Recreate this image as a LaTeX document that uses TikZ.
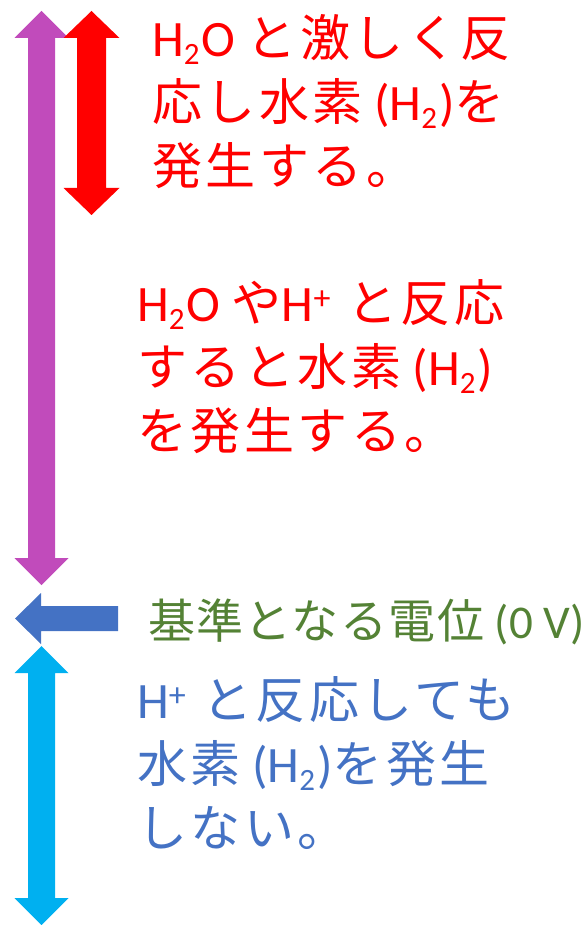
\documentclass[tikz,border=0pt]{standalone}
\usepackage{fontspec}
\setmainfont{Carlito}
\newfontfamily\jpfont[Scale=0.98, LetterSpace=7]{Noto Sans CJK JP}
\newfontfamily\jpnarrow[LetterSpace=3]{Noto Sans CJK JP}
\newcommand\ja[1]{{\jpfont #1}}
\newcommand\chemsub[1]{\raisebox{-8pt}{\fontsize{31}{31}\selectfont #1}\kern2pt\relax}
\newcommand\chemsup[1]{\raisebox{12pt}{\fontsize{34}{34}\selectfont #1}\kern5pt\relax}
\definecolor{arrowpurple}{HTML}{C14BBB}
\definecolor{arrowblue}{HTML}{4472C4}
\definecolor{arrowcyan}{HTML}{00B0F0}
\definecolor{textgreen}{HTML}{548235}
\begin{document}
\begin{tikzpicture}%
	[x=1pt, y=-1pt,
	arrowshape/.style={draw=none},
	label/.style={inner sep=0pt, anchor=base west, align=left, font=\fontsize{51}{64}\selectfont}]
\useasboundingbox (0,0) rectangle (588,925);
%%
%% Arrows
%%
\fill[arrowshape, arrowpurple] (41.5,11) -- (68.5,38) -- (55,38) -- (55,558) -- (68.5,558) -- (41.5,585) -- (14.5,558) -- (28,558) -- (28,38) -- (14.5,38) -- cycle;
\fill[arrowshape, red] (91.5,11) -- (119.5,38) -- (106,38) -- (106,188) -- (119.5,188) -- (91.5,215) -- (63.5,188) -- (77,188) -- (77,38) -- (63.5,38) -- cycle;
\fill[arrowshape, arrowblue] (15,618.5) -- (41,593) -- (41,606) -- (118,606) -- (118,631) -- (41,631) -- (41,644) -- cycle;
\fill[arrowshape, arrowcyan] (41.5,646) -- (68.5,673) -- (55,673) -- (55,898) -- (68.5,898) -- (41.5,925) -- (14.5,898) -- (28,898) -- (28,673) -- (14.5,673) -- cycle;
%%
%% Texts (placed at the baseline of their last line)
%%
\node[label, red] (strong) at (152,185)
	{H\chemsub{2}O \ja{と激しく反}\\ \ja{応し水素} (H\chemsub{2})\ja{を}\\ \ja{発生する。}};
\node[label, red] (react) at (137,449)
	{H\chemsub{2}O \ja{や}H\chemsup{+} \ja{と反応}\\ \ja{すると水素} (H\chemsub{2})\\ \ja{を発生する。}};
\node[label, textgreen, font=\fontsize{47}{60}\selectfont] (zero) at (148,638)
	{{\jpnarrow 基準となる電位} (0 V)};
\node[label, arrowblue] (none) at (137,846)
	{H\chemsup{+} \ja{と反応しても}\\ \ja{水素} (H\chemsub{2})\ja{を発生}\\ \ja{しない。}};
%%
\end{tikzpicture}
\end{document}
